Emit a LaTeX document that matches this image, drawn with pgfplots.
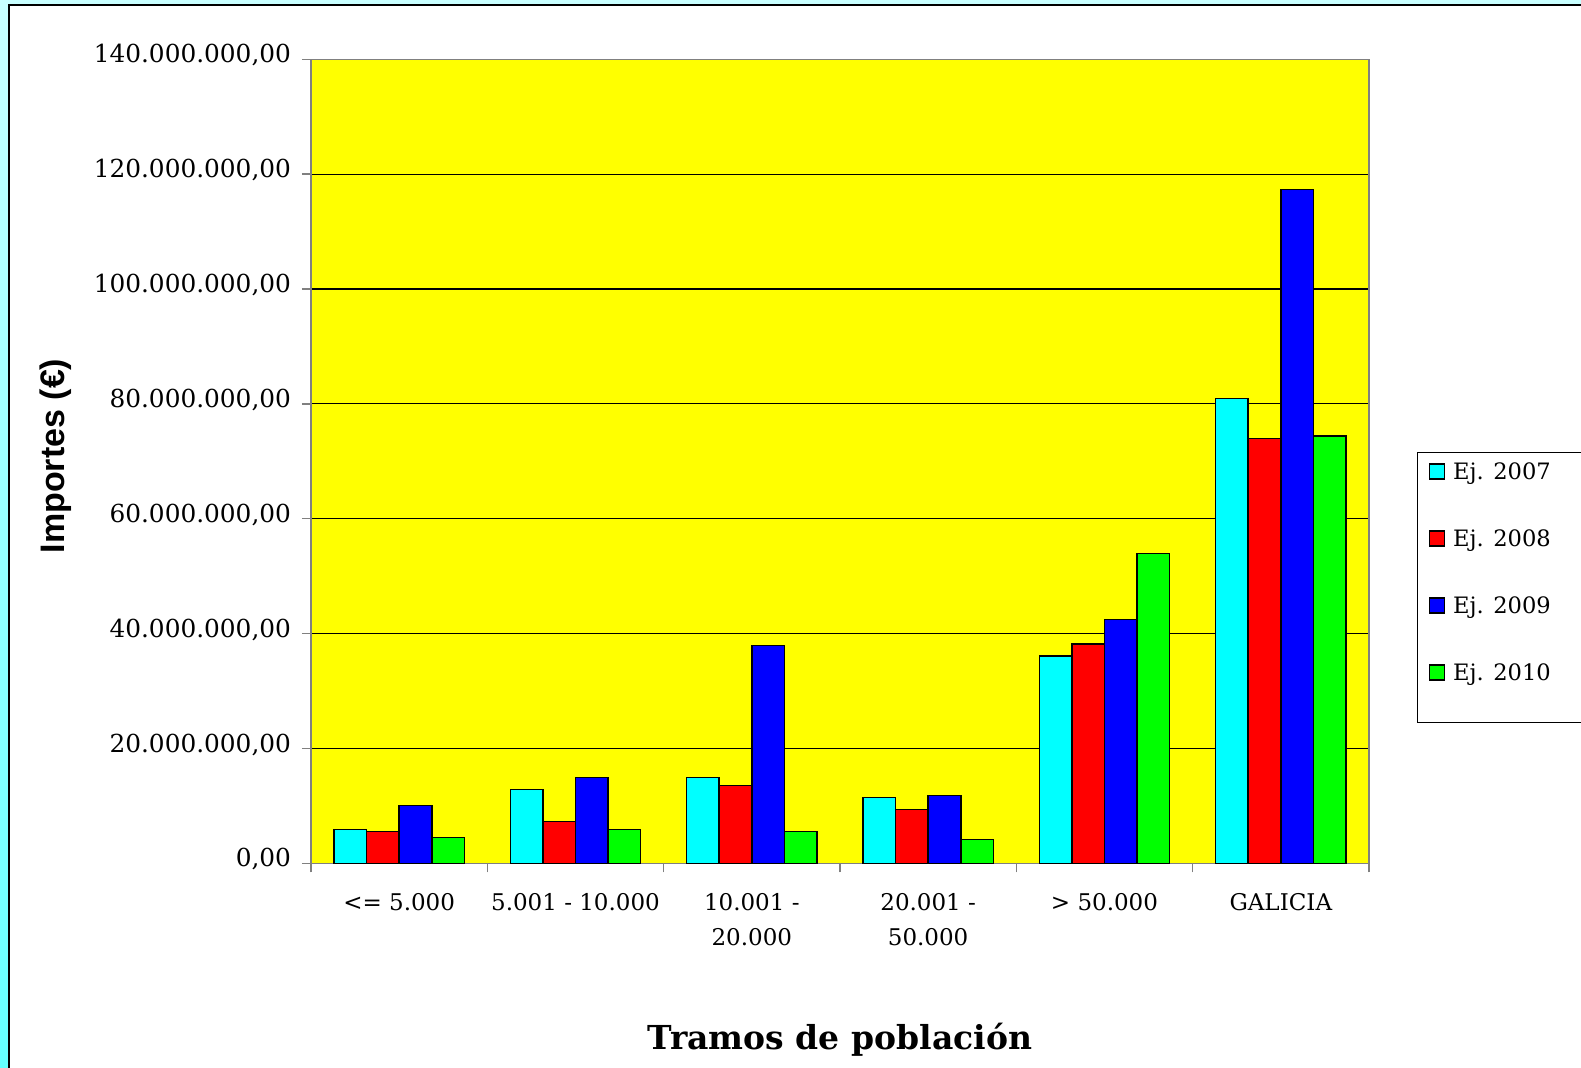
\documentclass[border=0pt]{standalone}
\usepackage{pgfplots}
\pgfplotsset{compat=1.18}
\usepackage{fontspec}
\setmainfont{DejaVu Serif}
\newfontfamily\arialfont{Liberation Sans}
\definecolor{axisgray}{RGB}{128,128,128}
\definecolor{bgcyanA}{RGB}{200,255,255}
\definecolor{bgcyanB}{RGB}{100,255,255}
\definecolor{cCyan}{RGB}{0,255,255}
\definecolor{cRed}{RGB}{255,0,0}
\definecolor{cBlue}{RGB}{0,0,255}
\definecolor{cGreen}{RGB}{0,255,0}
\definecolor{cYellow}{RGB}{255,255,0}
\pgfplotsset{lastlegimg/.style={legend image code/.code={\draw[##1, draw=black, line width=0.75pt] (0pt,-3.05pt) rectangle (7.5pt,4.45pt); \path (0pt,-18.4pt);}}}
\begin{document}
\begin{tikzpicture}
\path[use as bounding box] (0pt,0pt) rectangle (790.5pt,534pt);
\clip (0pt,0pt) rectangle (790.5pt,534pt);
\shade[top color=bgcyanA, bottom color=bgcyanB] (0pt,0pt) rectangle (790.5pt,534pt);
\fill[white] (4.25pt,-10pt) rectangle (800pt,531.25pt);
\draw[black, line width=1pt] (4.25pt,-10pt) -- (4.25pt,531.25pt) -- (800pt,531.25pt);
\begin{axis}[
  at={(155.5pt,102.35pt)}, anchor=south west,
  width=529pt, height=402pt, scale only axis,
  axis background/.style={fill=cYellow},
  ymin=0, ymax=140000000,
  ytick={0,20000000,40000000,60000000,80000000,100000000,120000000,140000000},
  yticklabels={{0,00},{20.000.000,00},{40.000.000,00},{60.000.000,00},{80.000.000,00},{100.000.000,00},{120.000.000,00},{140.000.000,00}},
  scaled y ticks=false,
  xmin=-0.5, xmax=5.5,
  xtick={0,1,2,3,4,5},
  xticklabels={{<= 5.000},{5.001 - 10.000},{10.001 -\\20.000},{20.001 -\\50.000},{> 50.000},{GALICIA}},
  xtick pos=bottom, ytick pos=left,
  xtick style={draw=none},
  extra x ticks={-0.5,0.5,1.5,2.5,3.5,4.5,5.5},
  extra x tick labels={},
  extra x tick style={xtick style={draw=axisgray, line width=0.75pt}},
  tick align=outside, major tick length=4.5pt,
  ytick style={draw=axisgray, line width=0.75pt},
  ymajorgrids, major grid style={black, line width=0.6pt},
  axis line style={draw=axisgray, line width=0.75pt},
  ybar=0pt, bar width=0.185,
  every axis plot/.append style={draw=black, line width=0.75pt},
  yticklabel style={font=\fontsize{12.4}{14}\selectfont, anchor=base east, inner sep=0pt, xshift=-5.3pt, yshift=-1.85pt},
  xticklabel style={font=\fontsize{11.5}{17.2}\selectfont, anchor=north, align=center, inner sep=0pt, yshift=-10.5pt},
  ylabel={\arialfont\bfseries Importes (€)},
  ylabel style={at={(axis description cs:-0.2416,0.5066)}, anchor=center, font=\fontsize{17}{20}\selectfont},
  xlabel={\bfseries Tramos de población},
  xlabel style={at={(axis description cs:0.5,-0.2322)}, anchor=base, font=\fontsize{16.5}{19}\selectfont},
  legend style={at={(axis description cs:1.0454,0.5116)}, anchor=north west, draw=black, line width=0.6pt, fill=white,
    inner xsep=5.5pt, inner ysep=5.3pt, row sep=23.6pt, column sep=4pt,
    font=\fontsize{11.3}{13}\selectfont, nodes={inner sep=0pt}},
  legend cell align=left,
  legend image code/.code={\draw[#1, draw=black, line width=0.75pt] (0pt,-3.05pt) rectangle (7.5pt,4.45pt);},
]
\addplot[fill=cCyan] coordinates {(0,5920000) (1,12890000) (2,14970000) (3,11490000) (4,36100000) (5,80970000)};
\addlegendentry{\makebox[70pt][l]{Ej. 2007}}
\addplot[fill=cRed] coordinates {(0,5570000) (1,7310000) (2,13580000) (3,9400000) (4,38190000) (5,74000000)};
\addlegendentry{\makebox[70pt][l]{Ej. 2008}}
\addplot[fill=cBlue] coordinates {(0,10100000) (1,14970000) (2,37960000) (3,11840000) (4,42490000) (5,117300000)};
\addlegendentry{\makebox[70pt][l]{Ej. 2009}}
\addplot[fill=cGreen, lastlegimg] coordinates {(0,4530000) (1,5920000) (2,5570000) (3,4180000) (4,53910000) (5,74400000)};
\addlegendentry{\makebox[70pt][l]{Ej. 2010}}
\end{axis}
\end{tikzpicture}
\end{document}
